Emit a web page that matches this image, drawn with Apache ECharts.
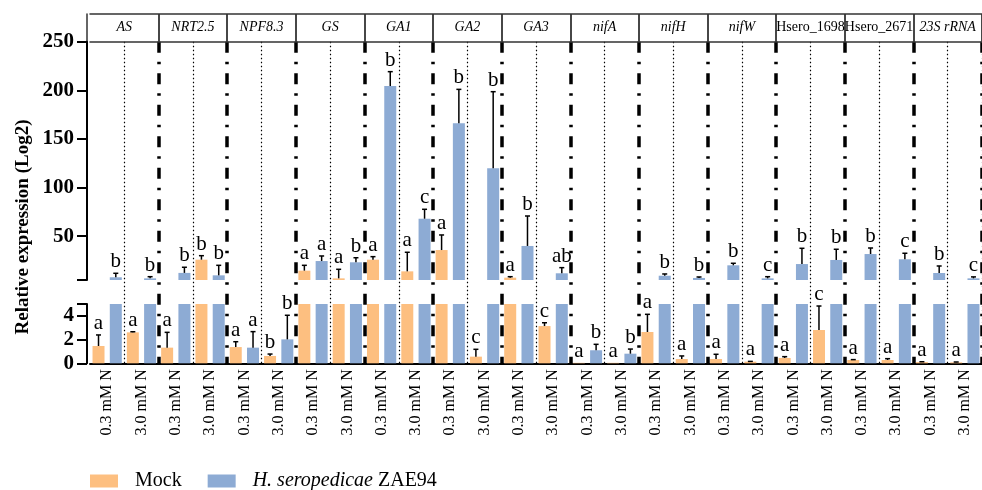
<!DOCTYPE html>
<html><head><meta charset="utf-8">
<script src="https://cdn.jsdelivr.net/npm/echarts@6/dist/echarts.min.js"></script>
<style>html,body{margin:0;padding:0;background:#fff}#c{width:982px;height:490px}</style>
</head><body><div id="c"></div>
<script>
const genes = ['AS','NRT2.5','NPF8.3','GS','GA1','GA2','GA3','nifA','nifH','nifW','Hsero_1698','Hsero_2671','23S rRNA'];
const conditions = ['0.3 mM N','3.0 mM N'];
const mockValues = [1.46,2.61, 1.32,25.9, 1.37,0.62, 14.6,6.7, 25.9,13.9, 35.8,0.56, 7.4,3.14, 0.04,0.04, 2.64,0.36, 0.36,0.14, 0.45,2.81, 0.28,0.28, 0.1,0.08];
const mockErrors = [0.93,0.05, 1.29,4.1, 0.45,0.16, 5.5,9.3, 3.1,19.6, 15.5,0.62, 1.0,0.28, 0,0, 1.49,0.26, 0.4,0.02, 0.11,2.02, 0.03,0.11, 0.03,0.03];
const mockLetters = ['a','a', 'a','b', 'a','b', 'a','a', 'a','a', 'a','c', 'a','c', 'a','a', 'a','a', 'a','a', 'a','c', 'a','a', 'a','a'];
const zaeValues = [7.8,6.7, 12.3,9.8, 1.32,2.02, 24.5,23.2, 204.4,68, 166.1,119.8, 40,11.9, 1.1,0.81, 9.4,7.1, 20.1,6.7, 21.4,25.6, 31.7,26.3, 12.2,6.7];
const zaeErrors = [4.1,1.7, 5.8,10.3, 1.35,2.03, 5.2,4.7, 14.8,9.7, 34.9,78.8, 30.8,5.8, 0.5,0.39, 1.8,1.0, 2.1,1.7, 16.2,11, 6.2,6.2, 7.2,1.5];
const zaeLetters = ['b','b', 'b','b', 'a','b', 'a','b', 'b','c', 'b','b', 'b','ab', 'b','b', 'b','b', 'b','c', 'b','b', 'b','c', 'b','c'];
const topTicks = [50,100,150,200,250];
const bottomTicks = [0,2,4];
const seriesNames = ['Mock','H. seropedicae ZAE94'];

const SERIF = "'Liberation Serif', 'Times New Roman', serif";
const ORANGE = '#FDBF80';
const BLUE = '#8DABD4';
const BAR_W = 12, BAR_GAP = 0.44;
const BREAK = 5, TOP_MAX = 250;
const xLabels = genes.flatMap(() => conditions);

const chart = echarts.init(document.getElementById('c'), null, {renderer:'canvas'});

function errSeries(values, errs, letters, sign, xIdx, yIdx, lo, hi, isTop) {
  return {
    type:'custom', name:'err', xAxisIndex:xIdx, yAxisIndex:yIdx, clip:false, z:5, silent:true,
    data: values.map((v,i)=>[i, v, errs[i]]),
    encode:{x:0, y:1},
    renderItem(params, api) {
      const i = api.value(0), v = api.value(1), e = api.value(2);
      const dx = sign * BAR_W * (1 + BAR_GAP) / 2;
      const cx = api.coord([i, 0])[0] + dx;
      const top = v + e;
      const children = [];
      const y0 = Math.max(v, lo), y1 = Math.min(top, hi);
      if (y1 > y0 && e > 0) {
        const p0 = api.coord([i, y0])[1], p1 = api.coord([i, y1])[1];
        children.push({type:'line', shape:{x1:cx, y1:p0, x2:cx, y2:p1}, style:{stroke:'#000', lineWidth:1.5}});
        if (top <= hi) children.push({type:'line', shape:{x1:cx-2.5, y1:p1, x2:cx+2.5, y2:p1}, style:{stroke:'#000', lineWidth:1.5}});
      }
      if (isTop ? v > BREAK : v <= BREAK) {
        const ty = api.coord([i, top])[1];
        children.push({type:'text', x:cx, y:ty - 1, style:{text:letters[params.dataIndex], font:"21px " + SERIF, fill:'#000', align:'center', verticalAlign:'bottom'}});
      }
      return {type:'group', children};
    }
  };
}

const axisLineStyle = {color:'#000', width:2};
const option = {
  animation:false,
  backgroundColor:'#fff',
  grid:[
    {left:90, width:899, top:14, height:27.7},
    {left:90, width:899, top:41.7, height:238.3},
    {left:90, width:899, top:304, height:59.3},
    {left:90, width:899, top:41.7, height:321.6}
  ],
  xAxis:[
    {gridIndex:0, type:'category', data:genes, position:'bottom',
     axisLine:{show:true, lineStyle:{color:'#333', width:1.5}}, axisTick:{show:false},
     splitLine:{show:true, interval:(i)=> i>0, lineStyle:{color:'#333', width:1.8}},
     axisLabel:{inside:true, interval:0, margin:14, verticalAlign:'middle',
       formatter:(v)=> v.indexOf('Hsero')===0 ? '{u|'+v+'}' : '{it|'+v+'}',
       rich:{it:{fontStyle:'italic', fontSize:14, fontFamily:SERIF, color:'#000'}, u:{fontSize:14, fontFamily:SERIF, color:'#000'}}}},
    {gridIndex:0, type:'category', data:genes, position:'top',
     axisLine:{show:true, lineStyle:{color:'#333', width:1.5}}, axisTick:{show:false}, axisLabel:{show:false}, splitLine:{show:false}},
    {gridIndex:1, type:'category', data:xLabels, show:false},
    {gridIndex:2, type:'category', data:xLabels,
     axisLine:{show:true, lineStyle:axisLineStyle}, axisTick:{show:false},
     axisLabel:{rotate:90, interval:0, margin:6, fontSize:16, fontFamily:SERIF, color:'#000'}},
    {gridIndex:3, type:'category', data:xLabels, axisLine:{show:false}, axisTick:{show:false}, axisLabel:{show:false},
     splitLine:{show:true, interval:(i)=> i%2===1, lineStyle:{type:[1.5,2.5], color:'#000', width:1.2}}},
    {gridIndex:3, type:'category', data:xLabels, axisLine:{show:false}, axisTick:{show:false}, axisLabel:{show:false},
     splitLine:{show:true, interval:(i)=> i>0 && i%2===0, lineStyle:{type:[11,9,2.5,9], color:'#000', width:3.5}}}
  ],
  yAxis:[
    {gridIndex:0, type:'value', min:0, max:1, offset:3, axisLine:{show:true, lineStyle:{color:'#333', width:1.5}},
     axisTick:{show:false}, axisLabel:{show:false}, splitLine:{show:false}},
    {gridIndex:1, type:'value', min:BREAK, max:TOP_MAX, offset:3,
     axisLine:{show:true, lineStyle:axisLineStyle},
     axisTick:{show:true, length:10, lineStyle:axisLineStyle, customValues:[BREAK].concat(topTicks)},
     axisLabel:{customValues:topTicks, fontSize:21, fontWeight:'bold', fontFamily:SERIF, color:'#000', margin:13},
     splitLine:{show:false}},
    {gridIndex:2, type:'value', min:0, max:BREAK, offset:3,
     axisLine:{show:true, lineStyle:axisLineStyle},
     axisTick:{show:true, length:10, lineStyle:axisLineStyle, customValues:bottomTicks.concat([BREAK])},
     axisLabel:{customValues:bottomTicks, fontSize:21, fontWeight:'bold', fontFamily:SERIF, color:'#000', margin:13},
     splitLine:{show:false}},
    {gridIndex:3, type:'value', min:0, max:1, show:false}
  ],
  legend:{
    data:seriesNames, left:85, top:466, itemWidth:28, itemHeight:13, itemGap:26, icon:'rect',
    formatter:(n)=> n==='Mock' ? '{m|Mock}' : '{i|H. seropedicae} {n|ZAE94}',
    textStyle:{fontSize:20, fontFamily:SERIF, color:'#000',
      rich:{m:{fontSize:20, fontFamily:SERIF, color:'#000', padding:[0,0,0,12]},
            i:{fontSize:20, fontStyle:'italic', fontFamily:SERIF, color:'#000', padding:[0,0,0,12]},
            n:{fontSize:20, fontFamily:SERIF, color:'#000'}}}
  },
  graphic:[{type:'text', x:23, y:227, rotation:Math.PI/2,
    style:{text:'Relative expression (Log2)', font:"bold 19px " + SERIF, fill:'#000', align:'center', verticalAlign:'middle'}}],
  series:[
    {type:'bar', name:seriesNames[0], xAxisIndex:2, yAxisIndex:1, data:mockValues, barWidth:BAR_W, barGap:(BAR_GAP*100)+'%', itemStyle:{color:ORANGE}},
    {type:'bar', name:seriesNames[1], xAxisIndex:2, yAxisIndex:1, data:zaeValues, barWidth:BAR_W, barGap:(BAR_GAP*100)+'%', itemStyle:{color:BLUE}},
    {type:'bar', name:seriesNames[0], xAxisIndex:3, yAxisIndex:2, data:mockValues, barWidth:BAR_W, barGap:(BAR_GAP*100)+'%', itemStyle:{color:ORANGE}},
    {type:'bar', name:seriesNames[1], xAxisIndex:3, yAxisIndex:2, data:zaeValues, barWidth:BAR_W, barGap:(BAR_GAP*100)+'%', itemStyle:{color:BLUE}},
    errSeries(mockValues, mockErrors, mockLetters, -1, 2, 1, BREAK, TOP_MAX, true),
    errSeries(zaeValues, zaeErrors, zaeLetters, 1, 2, 1, BREAK, TOP_MAX, true),
    errSeries(mockValues, mockErrors, mockLetters, -1, 3, 2, 0, BREAK, false),
    errSeries(zaeValues, zaeErrors, zaeLetters, 1, 3, 2, 0, BREAK, false)
  ]
};
chart.setOption(option);
</script></body></html>
